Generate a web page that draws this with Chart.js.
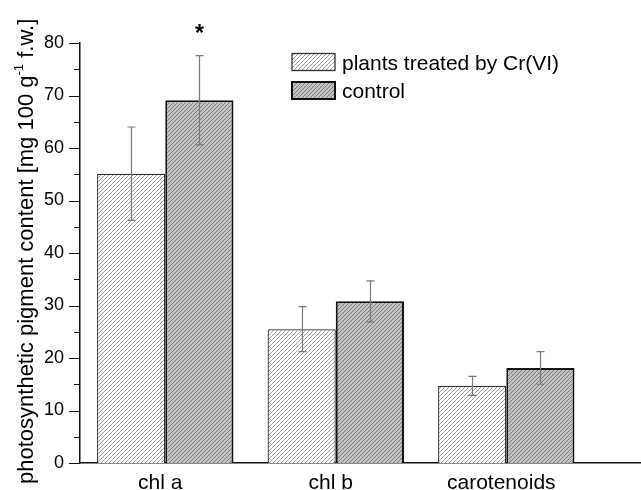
<!DOCTYPE html>
<html>
<head>
<meta charset="utf-8">
<script src="https://cdn.jsdelivr.net/npm/chart.js@4.4.1/dist/chart.umd.min.js"></script>
<style>
html,body{margin:0;padding:0;background:#fff;overflow:hidden;}
canvas{display:block;}
</style>
</head>
<body>
<canvas id="c" width="641" height="490"></canvas>
<script>
const categories = ['chl a', 'chl b', 'carotenoids'];
const seriesNames = ['plants treated by Cr(VI)', 'control'];
const treated = [55.1, 25.5, 14.7];
const treatedErr = [8.9, 4.3, 1.8];
const control = [69.1, 30.8, 18.1];
const controlErr = [8.5, 3.9, 3.1];
const yTickValues = [0, 10, 20, 30, 40, 50, 60, 70, 80];
const significant = [true, false, false]; // asterisk over control

const FONT = '"Liberation Sans", Arial, sans-serif';

function hatch(bg, line, size) {
  const c = document.createElement('canvas');
  c.width = size; c.height = size;
  const g = c.getContext('2d');
  g.fillStyle = bg; g.fillRect(0, 0, size, size);
  g.strokeStyle = line; g.lineWidth = 1;
  g.beginPath();
  for (let k = -1; k <= 1; k++) {
    g.moveTo(k * size - 1, size + 1);
    g.lineTo(k * size + size + 1, -1);
  }
  g.stroke();
  return g.createPattern(c, 'repeat');
}
const patTreated = hatch('#ffffff', '#a0a0a0', 4);
const patControl = hatch('#c2c2c2', '#7c7c7c', 4);

const errs = [treatedErr, controlErr];

const overlay = {
  id: 'overlay',
  afterDatasetsDraw(chart) {
    const ctx = chart.ctx;
    const y = chart.scales.y;
    const vals = [treated, control];
    ctx.save();
    ctx.strokeStyle = '#7a7a7a';
    ctx.lineWidth = 1.2;
    for (let d = 0; d < 2; d++) {
      const meta = chart.getDatasetMeta(d);
      meta.data.forEach((el, i) => {
        const x = Math.round(el.x) + 0.5;
        const t = y.getPixelForValue(vals[d][i] + errs[d][i]);
        const b = y.getPixelForValue(vals[d][i] - errs[d][i]);
        ctx.beginPath();
        ctx.moveTo(x, t); ctx.lineTo(x, b);
        ctx.moveTo(x - 4, t); ctx.lineTo(x + 4, t);
        ctx.moveTo(x - 4, b); ctx.lineTo(x + 4, b);
        ctx.stroke();
      });
    }
    ctx.restore();
  },
  afterDraw(chart) {
    const ctx = chart.ctx;
    const y = chart.scales.y;
    const area = chart.chartArea;
    ctx.save();
    // y tick marks (major + minor)
    ctx.strokeStyle = '#111';
    ctx.lineWidth = 1.2;
    ctx.beginPath();
    for (let v = 0; v <= 80; v += 5) {
      const py = Math.round(y.getPixelForValue(v)) + 0.5;
      const len = (v % 10 === 0) ? 11 : 6;
      ctx.moveTo(area.left - len, py);
      ctx.lineTo(area.left, py);
    }
    ctx.stroke();

    // asterisk
    const metaC = chart.getDatasetMeta(1);
    ctx.fillStyle = '#000';
    ctx.font = 'bold 23px ' + FONT;
    ctx.textAlign = 'center';
    ctx.textBaseline = 'alphabetic';
    significant.forEach((s, i) => {
      if (!s) return;
      const px = metaC.data[i].x;
      const py = y.getPixelForValue(control[i] + controlErr[i]) - 15;
      ctx.fillText('*', px, py);
    });

    // legend
    const pats = [patTreated, patControl];
    const bw = [1.3, 2];
    const bc = ['#333', '#111'];
    ctx.textAlign = 'left';
    ctx.font = '21px ' + FONT;
    for (let k = 0; k < 2; k++) {
      const by = 53.5 + k * 28.5;
      ctx.fillStyle = pats[k];
      ctx.fillRect(292, by, 43, 17);
      ctx.lineWidth = bw[k];
      ctx.strokeStyle = bc[k];
      ctx.strokeRect(292, by, 43, 17);
      ctx.fillStyle = '#000';
      ctx.fillText(seriesNames[k], 342, by + 16);
    }

    // y-axis title with superscript
    ctx.translate(33, 484);
    ctx.rotate(-Math.PI / 2);
    ctx.textAlign = 'left';
    ctx.textBaseline = 'alphabetic';
    const parts = [
      ['photosynthetic pigment content [mg 100 g', 22, 0],
      ['-1', 13, -10],
      [' f.w.]', 22, 0]
    ];
    let cx = 0;
    parts.forEach(p => {
      ctx.font = p[1] + 'px ' + FONT;
      ctx.fillText(p[0], cx, p[2]);
      cx += ctx.measureText(p[0]).width;
    });
    ctx.restore();
  }
};

new Chart(document.getElementById('c'), {
  type: 'bar',
  data: {
    datasets: [
      {
        label: seriesNames[0],
        data: treated.map((v, i) => ({ x: i, y: v })),
        backgroundColor: patTreated,
        borderColor: '#333',
        borderWidth: 1.3,
        borderSkipped: 'bottom',
        categoryPercentage: 0.8,
        barPercentage: 1.0
      },
      {
        label: seriesNames[1],
        data: control.map((v, i) => ({ x: i, y: v })),
        backgroundColor: patControl,
        borderColor: '#111',
        borderWidth: 2,
        borderSkipped: 'bottom',
        categoryPercentage: 0.8,
        barPercentage: 1.0
      }
    ]
  },
  options: {
    responsive: false,
    animation: false,
    events: [],
    layout: { padding: { left: 0, top: 43, right: 0, bottom: 0 } },
    plugins: { legend: { display: false }, tooltip: { enabled: false }, title: { display: false } },
    scales: {
      x: {
        type: 'linear',
        offset: false,
        min: -0.5,
        max: 2.79,
        grid: { display: false, drawTicks: false },
        border: { display: true, color: '#111', width: 1.5 },
        afterBuildTicks(scale) { scale.ticks = categories.map((c, i) => ({ value: i })); },
        afterFit(scale) { scale.height = 27; },
        ticks: {
          autoSkip: false,
          maxRotation: 0,
          padding: 8,
          labelOffset: -5,
          color: '#000',
          font: { family: FONT, size: 21 },
          callback: (v) => categories[v] !== undefined ? categories[v] : ''
        }
      },
      y: {
        min: 0,
        max: 80,
        grid: { display: false, drawTicks: false },
        border: { display: true, color: '#111', width: 1.5 },
        afterBuildTicks(scale) { scale.ticks = yTickValues.map(v => ({ value: v })); },
        afterFit(scale) { scale.width = 80; },
        ticks: {
          padding: 16,
          color: '#000',
          font: { family: FONT, size: 18 }
        }
      }
    }
  },
  plugins: [overlay]
});
</script>
</body>
</html>
